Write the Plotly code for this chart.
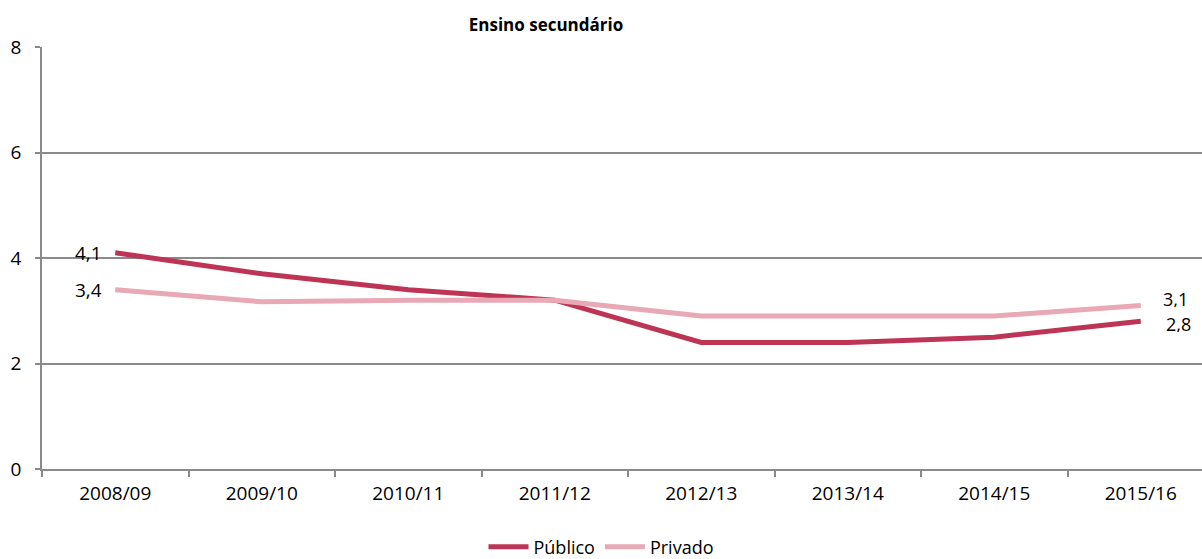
import plotly.graph_objects as go

categories = ["2008/09", "2009/10", "2010/11", "2011/12", "2012/13", "2013/14", "2014/15", "2015/16"]
publico = [4.1, 3.7, 3.4, 3.2, 2.4, 2.4, 2.5, 2.8]
privado = [3.4, 3.17, 3.2, 3.2, 2.9, 2.9, 2.9, 3.1]
y_ticks = [0, 2, 4, 6, 8]

FONT = "Open Sans"
FS = 19


def fmt(v):
    return f"{v:.1f}".replace(".", ",")


fig = go.Figure()
fig.add_trace(go.Scatter(
    x=categories, y=publico, name="Público", mode="lines",
    line=dict(color="#BE3455", width=5),
))
fig.add_trace(go.Scatter(
    x=categories, y=privado, name="Privado", mode="lines",
    line=dict(color="#E8A8B6", width=5),
))

lab_font = dict(family=FONT, size=FS, color="#000000")
end_font = dict(family=FONT, size=18, color="#000000")
annotations = []
for series in (publico, privado):
    annotations.append(dict(x=categories[0], y=series[0], text=fmt(series[0]),
                            xanchor="right", yanchor="middle", xshift=-12, showarrow=False,
                            height=18, borderpad=0, font=lab_font))
annotations.append(dict(x=categories[-1], y=privado[-1], text=fmt(privado[-1]),
                        xanchor="left", yanchor="middle", xshift=21, yshift=6, showarrow=False,
                        height=16, borderpad=0, font=end_font))
annotations.append(dict(x=categories[-1], y=publico[-1], text=fmt(publico[-1]),
                        xanchor="left", yanchor="middle", xshift=24, yshift=-3, showarrow=False,
                        height=16, borderpad=0, font=end_font))

fig.update_layout(
    width=1202, height=559,
    margin=dict(l=42, r=0, t=47, b=90, autoexpand=False),
    paper_bgcolor="white", plot_bgcolor="white",
    separators=",.",
    font=dict(family=FONT, size=FS, color="#000000"),
    title=dict(text="<b>Ensino secundário</b>", x=546/1202, xref="container", xanchor="center",
               y=1 - 25/559, yref="container", yanchor="middle",
               font=dict(family=FONT, size=17, color="#000000")),
    showlegend=True,
    legend=dict(orientation="h", x=601/1202, xanchor="center", xref="container",
                y=(469 - 547) / 422, yref="paper", yanchor="middle",
                font=dict(family=FONT, size=18, color="#000000"),
                itemwidth=40, tracegroupgap=0),
    annotations=annotations,
    xaxis=dict(type="category", range=[-0.5, 7.418], showgrid=False, automargin=False,
               showline=True, linecolor="#8a8a8a", linewidth=1.5,
               ticks="outside", ticklen=6, tickcolor="#8a8a8a", tickwidth=1.5,
               tickson="boundaries", ticklabelstandoff=6, zeroline=False),
    yaxis=dict(range=[0, 8], tickvals=y_ticks, ticktext=[str(v) for v in y_ticks],
               showgrid=True, gridcolor="#8a8a8a", gridwidth=1.5, automargin=False,
               showline=True, linecolor="#8a8a8a", linewidth=1.5,
               ticks="outside", ticklen=5, tickcolor="#8a8a8a", tickwidth=1.5,
               ticklabelstandoff=10, zeroline=False),
)

fig.write_html("out.html", config={"displayModeBar": False},
               post_script="document.body.style.margin='0';document.body.style.overflow='hidden';")
